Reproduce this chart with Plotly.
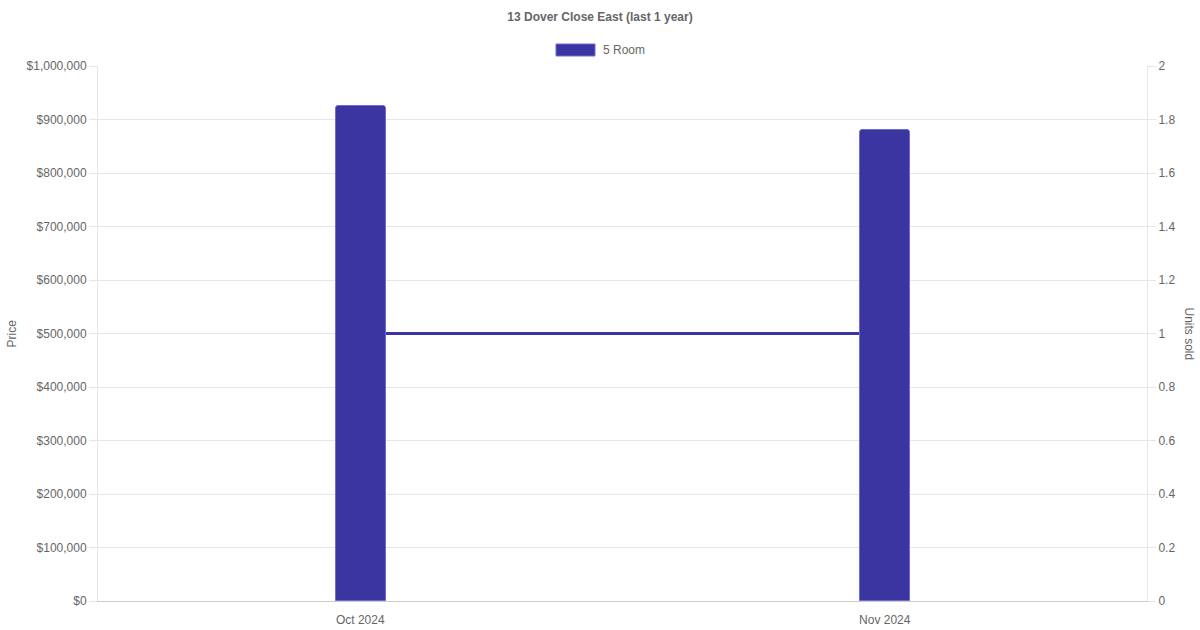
import plotly.graph_objects as go

months = ["Oct 2024", "Nov 2024"]
prices = [925000, 880000]
units = [1, 1]
series_name = "5 Room"
title_text = "13 Dover Close East (last 1 year)"

bar_color = "#3a35a0"
bar_edge = "#6e6ad8"
grid = "#e6e6e6"
txt = "#666666"
FONT = "Liberation Sans, Arial, sans-serif"

W, H = 1200, 630
L, R, T, B = 98, 1147, 66, 601
pw, ph = R - L, B - T

def px(x):
    return (x - L) / pw

def py(y):
    return (B - y) / ph

fig = go.Figure()

# Units sold line (primary axis, drawn beneath the bars)
fig.add_trace(go.Scatter(
    x=months, y=units, mode="lines", yaxis="y", xaxis="x",
    line=dict(color=bar_color, width=3), showlegend=False, name="Units sold",
))

# Price bars (overlaying axis, drawn on top)
fig.add_trace(go.Bar(
    x=months, y=prices, yaxis="y2", xaxis="x", name=series_name,
    width=0.095, offset=-0.0465,
    marker=dict(color=bar_color, line=dict(color=bar_edge, width=1), cornerradius=3),
    showlegend=False,
))

fig.update_layout(
    template="none",
    width=W, height=H, autosize=False,
    margin=dict(l=L, r=W - R, t=T, b=H - B, pad=0),
    paper_bgcolor="white", plot_bgcolor="white",
    font=dict(family=FONT, size=12, color=txt),
    title=dict(text="<b>" + title_text + "</b>", x=0.5, xref="container", xanchor="center",
               y=1 - 17 / H, yref="container", yanchor="middle",
               font=dict(family=FONT, size=12, color=txt)),
    xaxis=dict(type="category", showgrid=False, showline=True, linecolor="#cccccc", linewidth=1,
               ticks="outside", ticklen=8, tickcolor="rgba(0,0,0,0)",
               tickfont=dict(family=FONT, size=12, color=txt), zeroline=False,
               range=[-0.5, 1.5]),
    yaxis=dict(side="right", range=[0, 2], dtick=0.2, tick0=0, showgrid=True, gridcolor=grid,
               gridwidth=1, showline=True, linecolor=grid, linewidth=1, ticks="outside", ticklen=8,
               tickcolor=grid, zeroline=False, tickfont=dict(family=FONT, size=12, color=txt)),
    yaxis2=dict(side="left", overlaying="y", range=[0, 1000000], dtick=100000, tick0=0,
                showgrid=False, showline=True, linecolor=grid, linewidth=1, ticks="outside", ticklen=8,
                tickcolor=grid, zeroline=False, tickprefix="$", tickformat=",d",
                tickfont=dict(family=FONT, size=12, color=txt)),
    bargap=0,
    showlegend=False,
)

# Legend swatch and label
fig.add_shape(type="rect", xref="paper", yref="paper",
              x0=px(556), x1=px(595), y0=py(56), y1=py(44),
              fillcolor=bar_color, line=dict(color=bar_edge, width=1))
fig.add_annotation(text=series_name, xref="paper", yref="paper", x=px(601), y=py(50),
                   xanchor="left", yanchor="middle", showarrow=False,
                   font=dict(family=FONT, size=12, color=txt))

# Axis titles
fig.add_annotation(text="Price", xref="paper", yref="paper", x=px(11), y=0.5,
                   xanchor="center", yanchor="middle", textangle=-90, showarrow=False,
                   font=dict(family=FONT, size=12, color=txt))
fig.add_annotation(text="Units sold", xref="paper", yref="paper", x=px(1189), y=0.5,
                   xanchor="center", yanchor="middle", textangle=90, showarrow=False,
                   font=dict(family=FONT, size=12, color=txt))

post = ("document.body.style.margin='0';document.body.style.padding='0';"
        "document.body.style.overflow='hidden';"
        "var gd=document.getElementById('{plot_id}');"
        "Plotly.relayout(gd,{width:1200,height:630});")

fig.write_html("out.html", post_script=post,
               config={"responsive": False, "displayModeBar": False})
